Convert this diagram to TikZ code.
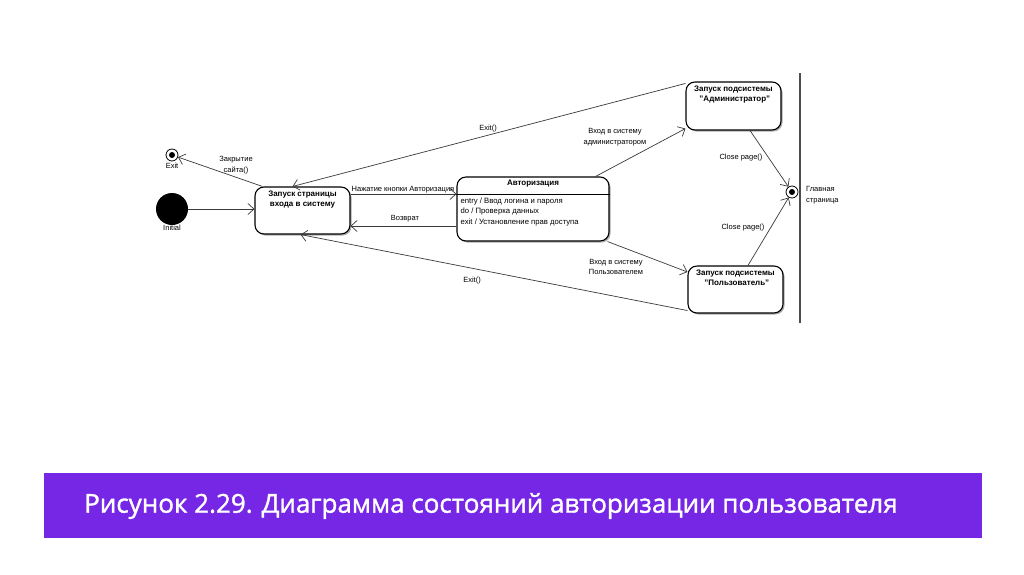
\documentclass[tikz,border=0pt]{standalone}
\usepackage{fontspec}
\setmainfont{Liberation Sans}
\newfontfamily\capfont[FakeBold=1.3]{Open Sans}
\usetikzlibrary{arrows.meta,shadows}
\definecolor{banner}{HTML}{7627E6}
\definecolor{edge}{HTML}{3A3A3A}
\tikzset{
  statebox/.style={draw=black, line width=1.1pt, rounded corners=9pt, fill=white,
    drop shadow={shadow xshift=1.5pt, shadow yshift=-1.5pt, fill=black!55, opacity=0.6}},
  statetext/.style={font=\fontsize{8}{10}\selectfont\bfseries, align=center, inner sep=0pt},
  bodytext/.style={font=\fontsize{7.7}{10.5}\selectfont, align=left, inner sep=0pt},
  lbl/.style={font=\fontsize{7.5}{10.5}\selectfont, align=center, inner sep=0pt},
  trans/.style={draw=edge, line width=0.7pt, -{Straight Barb[length=6pt,width=11pt,line width=0.7pt]}},
}
\begin{document}
\begin{tikzpicture}[x=1pt,y=-1pt]
\useasboundingbox (0,0) rectangle (1024,574);
\fill[white] (0,0) rectangle (1024,574);

% pseudo states
\node[circle, draw, line width=0.8pt, minimum size=12pt, inner sep=0pt] (exitf) at (172,155) {};
\node[circle, fill=black, minimum size=6pt, inner sep=0pt] (exitdot) at (exitf.center) {};
\node[lbl, anchor=north] (exitlbl) at (172,163) {Exit};
\node[circle, fill=black, minimum size=32pt, inner sep=0pt] (init) at (172,209) {};
\node[lbl, anchor=north] (initlbl) at (172,225) {Initial};

\node[circle, draw, line width=0.8pt, minimum size=12pt, inner sep=0pt] (mainf) at (792,192) {};
\node[circle, fill=black, minimum size=6pt, inner sep=0pt] (maindot) at (mainf.center) {};
\node[lbl, align=left, anchor=west] (mainlbl) at (806,195) {Главная\\страница};
\draw[line width=1.2pt, draw=black!70] (800,73) -- (800,323);

% states
\node[statebox, minimum width=95pt, minimum height=47pt] (start) at (302.5,210.5) {};
\node[statetext, anchor=north] (starttxt) at ([yshift=-4pt]start.north) {Запуск страницы\\входа в систему};

\node[statebox, minimum width=152pt, minimum height=64pt] (auth) at (533,209) {};
\node[statetext, anchor=north] (authtxt) at ([yshift=-3pt]auth.north) {Авторизация};
\draw[line width=0.9pt] ([yshift=-18pt]auth.north west) -- ([yshift=-18pt]auth.north east);
\node[bodytext, anchor=north west] (authbody) at ([xshift=4pt,yshift=-21pt]auth.north west)
  {entry / Ввод логина и пароля\\do / Проверка данных\\exit / Установление прав доступа};

\node[statebox, minimum width=95pt, minimum height=48pt] (admin) at (733.5,106) {};
\node[statetext, anchor=north] (admintxt) at ([yshift=-4pt]admin.north) {Запуск подсистемы\\\,\,"Администратор"};

\node[statebox, minimum width=95pt, minimum height=47pt] (user) at (735.5,289.5) {};
\node[statetext, anchor=north] (usertxt) at ([yshift=-4pt]user.north) {Запуск подсистемы\\\,\,"Пользователь"};

% transitions
\draw[trans] (init) -- (start.west |- init);
\draw[trans] ([xshift=8pt]start.north west) -- (exitf);
\node[lbl] (l1) at (236,165) {Закрытие\\сайта()};
\draw[trans] ([yshift=16.5pt]start.east) -- ([yshift=15pt]auth.west);
\node[lbl, anchor=south] (l2) at (403,193) {Нажатие кнопки Авторизация};
\draw[trans] ([yshift=-17pt]auth.west) -- ([yshift=-15.5pt]start.east);
\node[lbl] (l3) at (405,219) {Возврат};
\draw[trans] ([yshift=-2pt]admin.north west) -- ([xshift=-10pt]start.north);
\node[lbl] (l4) at (488,129) {Exit()};
\draw[trans] ([yshift=3pt]user.south west) -- ([xshift=-2pt]start.south);
\node[lbl] (l5) at (472,281) {Exit()};
\draw[trans] ([xshift=-14pt]auth.north east) -- ([yshift=2pt]admin.south west);
\node[lbl] (l6) at (615,137) {Вход в систему\\администратором};
\draw[trans] ([xshift=-2pt]auth.south east) -- ([yshift=17.5pt]user.west);
\node[lbl] (l7) at (616,267) {Вход в систему\\Пользователем};
\draw[trans] ([xshift=16.5pt]admin.south) -- (mainf);
\node[lbl] (l8) at (741,158) {Close page()};
\draw[trans] ([xshift=12.5pt]user.north) -- (mainf);
\node[lbl] (l9) at (743,228) {Close page()};

% caption banner
\fill[banner] (44,473) rectangle (982,538);
\node[anchor=west, text=white, font=\capfont\fontsize{26}{31}\selectfont, inner sep=0pt] (cap) at (84,506) {Рисунок 2.29. Диаграмма состояний авторизации пользователя};
\end{tikzpicture}
\end{document}
